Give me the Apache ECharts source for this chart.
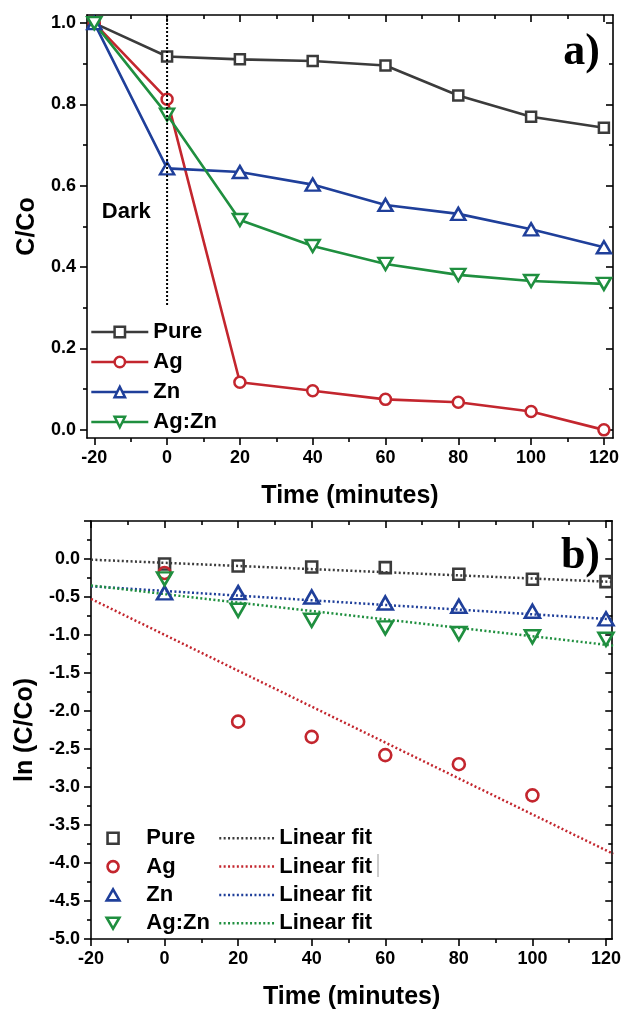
<!DOCTYPE html>
<html><head><meta charset="utf-8">
<script src="https://cdn.jsdelivr.net/npm/echarts@6/dist/echarts.min.js"></script>
<style>html,body{margin:0;padding:0;background:#fff}#c{width:624px;height:1013px}</style>
</head><body><div id="c"></div>
<script>
// ---------- data ----------
const time = [-20, 0, 20, 40, 60, 80, 100, 120];
const ccoPure = [1.0, 0.918, 0.911, 0.907, 0.896, 0.822, 0.770, 0.743];
const ccoAg   = [1.0, 0.813, 0.117, 0.096, 0.075, 0.068, 0.045, 0.0];
const ccoZn   = [1.0, 0.643, 0.634, 0.603, 0.553, 0.531, 0.493, 0.449];
const ccoAgZn = [1.0, 0.775, 0.516, 0.452, 0.408, 0.381, 0.366, 0.359];

const lnTime = [0, 20, 40, 60, 80, 100, 120];
const lnPure = [-0.065, -0.092, -0.105, -0.114, -0.201, -0.267, -0.298];
const lnAg   = [-0.184, -2.14, -2.34, -2.58, -2.70, -3.11, null];
const lnZn   = [-0.446, -0.442, -0.499, -0.578, -0.621, -0.687, -0.788];
const lnAgZn = [-0.262, -0.674, -0.805, -0.906, -0.980, -1.024, -1.055];

const fitX = [-20, 122];
const fitPure = [-0.009, -0.302];
const fitAg   = [-0.525, -3.88];
const fitZn   = [-0.359, -0.795];
const fitAgZn = [-0.350, -1.140];

const darkLineX = [0, 0];
const darkLineY = [1.02, 0.303];
const darkLabelPos = [-11.2, 0.536];

const xMajor = [-20, 0, 20, 40, 60, 80, 100, 120];
const xMinor = [-10, 10, 30, 50, 70, 90, 110];
const yMajorA = [0, 0.2, 0.4, 0.6, 0.8, 1.0];
const yMinorA = [0.1, 0.3, 0.5, 0.7, 0.9];
const yMajorB = [-5, -4.5, -4, -3.5, -3, -2.5, -2, -1.5, -1, -0.5, 0, 0.5];
const yLabelB = [-5, -4.5, -4, -3.5, -3, -2.5, -2, -1.5, -1, -0.5, 0];
const yMinorB = [-4.75, -4.25, -3.75, -3.25, -2.75, -2.25, -1.75, -1.25, -0.75, -0.25, 0.25];

const names = ['Pure', 'Ag', 'Zn', 'Ag:Zn'];
// ---------- styling ----------
const F = "'Liberation Sans', Arial, sans-serif";
const COL = ['#3b3b3b', '#c3262e', '#1f3f9a', '#1f8f3f'];
const SYM = ['path://M0,0H10V10H0Z', 'circle', 'path://M5,0L10,8.66L0,8.66Z', 'path://M0,0L10,0L5,8.66Z'];
const SIZE_A = [10, 11, [14, 12], [14, 12]];
const SIZE_B = [11, 12, [15, 13], [15, 13]];
const DOT = [2, 2.4];

const zip = (xs, ys) => xs.map((x, i) => [x, ys[i]]).filter(p => p[1] !== null);

function axisSet(dim, grid, min, max, major, minor, labels, fmt, name, nameGap) {
  const lo = dim === 'x' ? 'bottom' : 'left';
  const hi = dim === 'x' ? 'top' : 'right';
  const line = {color: '#000', width: 1.6};
  const base = {gridIndex: grid, type: 'value', min, max, splitLine: {show: false}, silent: true};
  return [
    Object.assign({}, base, {
      position: lo,
      axisLine: {show: true, onZero: false, lineStyle: line},
      axisTick: {show: true, inside: false, length: 7, customValues: major, lineStyle: line},
      axisLabel: {show: true, customValues: labels, formatter: fmt, margin: 11,
        fontSize: 18, fontWeight: 'bold', color: '#000', fontFamily: F},
      name, nameLocation: 'middle', nameGap,
      nameTextStyle: {fontSize: 25, fontWeight: 'bold', color: '#000', fontFamily: F}
    }),
    Object.assign({}, base, {
      position: lo,
      axisLine: {show: false, onZero: false},
      axisTick: {show: true, inside: false, length: 4, customValues: minor, lineStyle: line},
      axisLabel: {show: false}
    }),
    Object.assign({}, base, {
      position: hi,
      axisLine: {show: true, onZero: false, lineStyle: line},
      axisTick: {show: true, inside: true, length: 7, customValues: major, lineStyle: line},
      axisLabel: {show: false}
    }),
    Object.assign({}, base, {
      position: hi,
      axisLine: {show: false, onZero: false},
      axisTick: {show: true, inside: true, length: 4, customValues: minor, lineStyle: line},
      axisLabel: {show: false}
    })
  ];
}

const f1 = v => v.toFixed(1);
const f0 = v => String(v);

const xAxes = [].concat(
  axisSet('x', 0, -22, 122.5, xMajor, xMinor, xMajor, f0, 'Time (minutes)', 46),
  axisSet('x', 1, -20, 121.7, xMajor, xMinor, xMajor, f0, 'Time (minutes)', 46)
);
const yAxes = [].concat(
  axisSet('y', 0, -0.02, 1.02, yMajorA, yMinorA, yMajorA, f1, 'C/Co', 43),
  axisSet('y', 1, -5, 0.5, yMajorB, yMinorB, yLabelB, f1, 'ln (C/Co)', 47)
);

const ccoData = [ccoPure, ccoAg, ccoZn, ccoAgZn];
const lnData = [lnPure, lnAg, lnZn, lnAgZn];
const fitData = [fitPure, fitAg, fitZn, fitAgZn];
const fitNames = ['Linear fit', 'Linear fit ', 'Linear fit  ', 'Linear fit   '];
const scNames = names.map(n => n + ' ');

const series = [];
names.forEach((n, i) => {
  series.push({
    name: n, type: 'line', xAxisIndex: 0, yAxisIndex: 0,
    data: zip(time, ccoData[i]),
    symbol: SYM[i], symbolSize: SIZE_A[i], showSymbol: true,
    lineStyle: {color: COL[i], width: 2.6},
    itemStyle: {color: '#fff', borderColor: COL[i], borderWidth: 2.5},
    emphasis: {disabled: true}, z: 2
  });
});
series.push({
  name: 'darkline', type: 'line', xAxisIndex: 0, yAxisIndex: 0,
  data: zip(darkLineX, darkLineY), symbol: 'none',
  lineStyle: {color: '#000', width: 2, type: [2, 2]}, z: 4, silent: true
});
names.forEach((n, i) => {
  series.push({
    name: fitNames[i], type: 'line', xAxisIndex: 4, yAxisIndex: 4,
    data: zip(fitX, fitData[i]), symbol: 'none', clip: true,
    lineStyle: {color: COL[i], width: 2.5, type: DOT}, z: 2, silent: true
  });
});
names.forEach((n, i) => {
  series.push({
    name: scNames[i], type: 'scatter', xAxisIndex: 4, yAxisIndex: 4,
    data: zip(lnTime, lnData[i]),
    symbol: SYM[i], symbolSize: SIZE_B[i],
    itemStyle: {color: 'rgba(0,0,0,0)', borderColor: COL[i], borderWidth: 2.6, opacity: 1},
    z: 3, silent: true
  });
});

const legText = {fontSize: 22, fontWeight: 'bold', color: '#000', fontFamily: F, lineHeight: 22};
const legends = [
  {
    orient: 'vertical', left: 90, top: 321, padding: 0,
    itemWidth: 57, itemHeight: 13, itemGap: 8, selectedMode: false,
    textStyle: legText,
    data: names.map((n, i) => ({
      name: n,
      itemStyle: {color: '#fff', borderColor: COL[i], borderWidth: 2.5},
      lineStyle: {color: COL[i], width: 2.6, type: 'solid'}
    }))
  },
  {
    orient: 'vertical', left: 105.4, top: 827.3, padding: 0,
    itemWidth: 56.6, itemHeight: 11, itemGap: 6.3, selectedMode: false,
    textStyle: legText, formatter: n => n.trim(),
    data: scNames.map((n, i) => ({
      name: n,
      itemStyle: {color: 'rgba(0,0,0,0)', borderColor: COL[i], borderWidth: 2.6, opacity: 1}
    }))
  },
  {
    orient: 'vertical', left: 218, top: 827.3, padding: 0,
    itemWidth: 55, itemHeight: 11, itemGap: 6.3, selectedMode: false,
    textStyle: legText, formatter: n => n.trim(),
    data: fitNames.map((n, i) => ({
      name: n,
      itemStyle: {color: 'rgba(0,0,0,0)', borderColor: 'rgba(0,0,0,0)', borderWidth: 0},
      lineStyle: {color: COL[i], width: 2.5, type: DOT}
    }))
  }
];

const chart = echarts.init(document.getElementById('c'), null, {renderer: 'canvas'});
chart.setOption({
  animation: false,
  backgroundColor: '#fff',
  grid: [
    {left: 87, right: 11, top: 15, bottom: 1013 - 438},
    {left: 91, right: 11, top: 521, bottom: 1013 - 939}
  ],
  xAxis: xAxes,
  yAxis: yAxes,
  legend: legends,
  series
});
const darkPx = chart.convertToPixel({gridIndex: 0}, darkLabelPos);
chart.setOption({
  graphic: [
    {type: 'text', x: darkPx[0], y: darkPx[1], silent: true,
      style: {text: 'Dark', font: "bold 22px 'Liberation Sans', Arial, sans-serif", fill: '#000',
        align: 'center', verticalAlign: 'middle'}},
    {type: 'text', right: 24, top: 31, silent: true,
      style: {text: 'a)', font: "bold 44px 'Liberation Serif', 'Times New Roman', serif", fill: '#000'}},
    {type: 'text', right: 24, top: 535, silent: true,
      style: {text: 'b)', font: "bold 44px 'Liberation Serif', 'Times New Roman', serif", fill: '#000'}},
    {type: 'line', silent: true, shape: {x1: 378, y1: 854, x2: 378, y2: 877},
      style: {stroke: '#999', lineWidth: 1}}
  ]
});
</script>
</body></html>
